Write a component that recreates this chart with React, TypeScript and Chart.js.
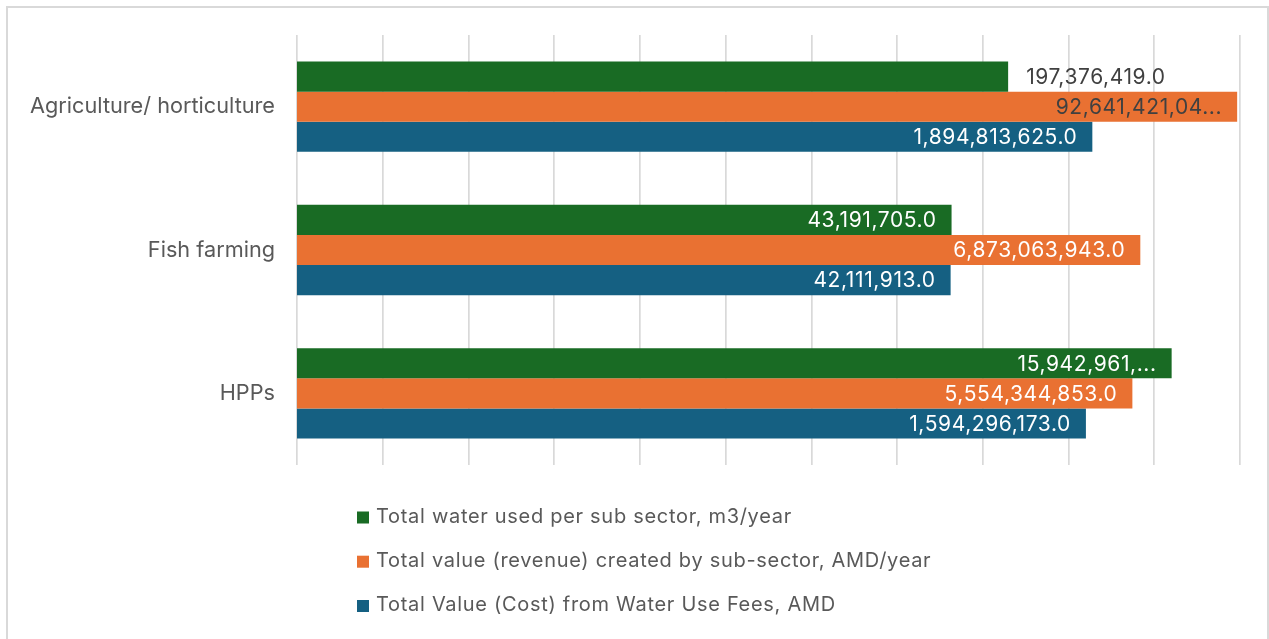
import React, { useEffect, useRef } from "react";
import { Chart, registerables } from "chart.js";

Chart.register(...registerables);

// ---- data ----
const categories = ["Agriculture/ horticulture", "Fish farming", "HPPs"];
const seriesNames = [
  "Total water used per sub sector, m3/year",
  "Total value (revenue) created by sub-sector, AMD/year",
  "Total Value (Cost) from Water Use Fees, AMD",
];
const waterUsed = [197376419, 43191705, 15942961000];
const revenue = [92641421040, 6873063943, 5554344853];
const feesCost = [1894813625, 42111913, 1594296173];
const waterLabels = ["197,376,419.0", "43,191,705.0", "15,942,961,..."];
const revenueLabels = ["92,641,421,04...", "6,873,063,943.0", "5,554,344,853.0"];
const feesLabels = ["1,894,813,625.0", "42,111,913.0", "1,594,296,173.0"];
const axisTicks = [1, 10, 100, 1e3, 1e4, 1e5, 1e6, 1e7, 1e8, 1e9, 1e10, 1e11];

// ---- styles ----
const FONT = "Inter, 'Open Sans', sans-serif";
const COLORS = ["#196B24", "#E97132", "#156082"];
const TEXT_GREY = "#595959";
const LABEL_DARK = "#404040";
const GRID = "#d9d9d9";

export default function App() {
  const ref = useRef<HTMLCanvasElement | null>(null);

  useEffect(() => {
    document.body.style.margin = "0";
    const canvas = ref.current!;
    const valueLabels = [waterLabels, revenueLabels, feesLabels];
    // per dataset, per point: outside label / dark text
    const outside = [[true, false, false], [false, false, false], [false, false, false]];
    const dark = [[true, false, false], [true, false, false], [false, false, false]];

    const framePlugin = {
      id: "frame",
      beforeDraw(chart: any) {
        const { ctx } = chart;
        ctx.save();
        ctx.fillStyle = "#ffffff";
        ctx.fillRect(0, 0, chart.width, chart.height);
        ctx.strokeStyle = GRID;
        ctx.lineWidth = 2;
        ctx.strokeRect(7, 7, 1261, 700);
        ctx.restore();
      },
    };

    const labelPlugin = {
      id: "valueLabels",
      afterDatasetsDraw(chart: any) {
        const { ctx } = chart;
        ctx.save();
        ctx.font = `21px ${FONT}`;
        (ctx as any).letterSpacing = "0.6px";
        ctx.textBaseline = "middle";
        chart.data.datasets.forEach((_ds: any, di: number) => {
          const meta = chart.getDatasetMeta(di);
          meta.data.forEach((bar: any, i: number) => {
            const txt = valueLabels[di][i];
            if (outside[di][i]) {
              ctx.textAlign = "left";
              ctx.fillStyle = LABEL_DARK;
              ctx.fillText(txt, bar.x + 18, bar.y + 1);
            } else {
              ctx.textAlign = "right";
              ctx.fillStyle = dark[di][i] ? LABEL_DARK : "#ffffff";
              ctx.fillText(txt, bar.x - 15, bar.y + 1);
            }
          });
        });
        ctx.restore();
      },
    };

    const legendPlugin = {
      id: "customLegend",
      afterDraw(chart: any) {
        const { ctx } = chart;
        ctx.save();
        ctx.font = `20px ${FONT}`;
        (ctx as any).letterSpacing = "0.7px";
        ctx.textBaseline = "middle";
        ctx.textAlign = "left";
        const rows = [517.5, 561.7, 606];
        chart.data.datasets.forEach((ds: any, di: number) => {
          const y = rows[di];
          ctx.fillStyle = ds.backgroundColor;
          ctx.fillRect(357, y - 6, 12, 12);
          ctx.fillStyle = TEXT_GREY;
          ctx.fillText(ds.label, 376, y - 1);
        });
        ctx.restore();
      },
    };

    const chart = new Chart(canvas, {
      type: "bar",
      data: {
        labels: categories,
        datasets: [
          { label: seriesNames[0], data: waterUsed, backgroundColor: COLORS[0] },
          { label: seriesNames[1], data: revenue, backgroundColor: COLORS[1] },
          { label: seriesNames[2], data: feesCost, backgroundColor: COLORS[2] },
        ],
      },
      options: {
        indexAxis: "y",
        responsive: false,
        maintainAspectRatio: false,
        animation: false,
        layout: { padding: { left: 0, right: 29, top: 35, bottom: 174 } },
        datasets: { bar: { categoryPercentage: 0.63, barPercentage: 1 } },
        scales: {
          x: {
            type: "logarithmic",
            min: 1,
            max: 1e11,
            afterBuildTicks: (s: any) => {
              s.ticks = axisTicks.map((v) => ({ value: v }));
            },
            ticks: { display: false },
            grid: { color: GRID, lineWidth: 1.7, drawTicks: false },
            border: { display: false },
          },
          y: {
            grid: { display: false, drawTicks: false },
            border: { display: false },
            ticks: { color: TEXT_GREY, font: { family: FONT, size: 21.7 }, padding: 22 },
            afterFit: (s: any) => {
              s.width = 297;
            },
          },
        },
        plugins: { legend: { display: false }, tooltip: { enabled: false } },
      } as any,
      plugins: [framePlugin, labelPlugin, legendPlugin],
    });
    return () => chart.destroy();
  }, []);

  return <canvas ref={ref} width={1269} height={639} style={{ display: "block" }} />;
}
